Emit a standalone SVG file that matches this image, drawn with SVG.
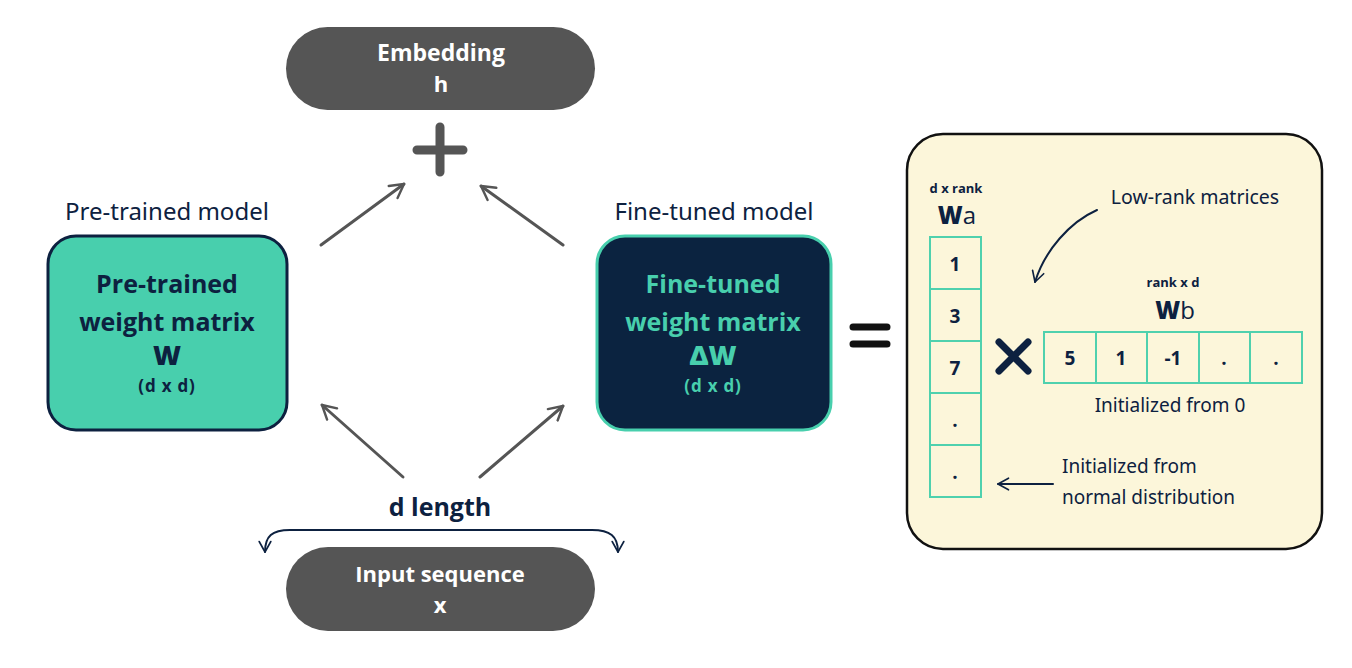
<svg xmlns="http://www.w3.org/2000/svg" width="1352" height="668" viewBox="0 0 1352 668">
<style>
.pill{fill:#555555}
.pilltxt{font-family:"Open Sans","Liberation Sans",sans-serif;font-weight:700;fill:#ffffff;text-anchor:middle}
.hand{font-family:"Noto Sans","DejaVu Sans",sans-serif;fill:#0d2140}
.mid{text-anchor:middle}
.boxtxt{font-family:"Open Sans","Liberation Sans",sans-serif;text-anchor:middle}
.b7{font-weight:700}
.b9{font-weight:800}
.cell{fill:none;stroke:#4fd1ae;stroke-width:2}
.celltxt{font-family:"Open Sans","Liberation Sans",sans-serif;font-weight:700;font-size:19px;fill:#0d2140;text-anchor:middle}
.conn{fill:none;stroke:#555555;stroke-width:3;stroke-linecap:round}
.navy{fill:none;stroke:#0d2140;stroke-width:2;stroke-linecap:round}
</style>
<defs>
<marker id="ah" viewBox="0 0 12 12" refX="10" refY="6" markerWidth="6" markerHeight="6" orient="auto" markerUnits="strokeWidth">
<path d="M1,1 L10,6 L1,11" fill="none" stroke="#555555" stroke-width="1.6" stroke-linecap="round" stroke-linejoin="round"/>
</marker>
<marker id="ahn" viewBox="0 0 12 12" refX="10" refY="6" markerWidth="7" markerHeight="7" orient="auto-start-reverse" markerUnits="strokeWidth">
<path d="M1,1 L10,6 L1,11" fill="none" stroke="#0d2140" stroke-width="1.4" stroke-linecap="round" stroke-linejoin="round"/>
</marker>
</defs>
<rect width="1352" height="668" fill="#ffffff"/>

<g id="embedding">
<rect class="pill" x="286" y="27" width="309" height="83" rx="41.5"/>
<text class="pilltxt" x="441" y="61" font-size="23">Embedding</text>
<text class="pilltxt" x="441" y="92" font-size="22">h</text>
</g>

<g id="plus">
<path d="M440,127 V172 M417,150 H463" stroke="#555555" stroke-width="9" stroke-linecap="round"/>
</g>

<g id="pretrained">
<text class="hand mid" x="167" y="220" font-size="24">Pre-trained model</text>
<rect x="48" y="236" width="239" height="194" rx="28" fill="#48cfad" stroke="#0d2140" stroke-width="3"/>
<text class="boxtxt b7" x="167" y="293" font-size="25" fill="#0d2140">Pre-trained</text>
<text class="boxtxt b7" x="167" y="331" font-size="25" fill="#0d2140">weight matrix</text>
<text class="boxtxt b9" x="167" y="365" font-size="27" fill="#0d2140">W</text>
<text class="boxtxt b7" x="167" y="392" font-size="17" fill="#0d2140" letter-spacing="0.8">(d x d)</text>
</g>

<g id="finetuned">
<text class="hand mid" x="714" y="220" font-size="24">Fine-tuned model</text>
<rect x="597" y="236" width="234" height="194" rx="28" fill="#0b2340" stroke="#48cfad" stroke-width="3"/>
<text class="boxtxt b7" x="713" y="293" font-size="25" fill="#48cfad">Fine-tuned</text>
<text class="boxtxt b7" x="713" y="331" font-size="25" fill="#48cfad">weight matrix</text>
<text class="boxtxt b9" x="713" y="365" font-size="27" fill="#48cfad">ΔW</text>
<text class="boxtxt b7" x="713" y="392" font-size="17" fill="#48cfad" letter-spacing="0.8">(d x d)</text>
</g>

<g id="equals">
<path d="M853,327 H887 M853,344 H887" stroke="#111111" stroke-width="7" stroke-linecap="round"/>
</g>

<g id="input">
<rect class="pill" x="286" y="547" width="309" height="84" rx="42"/>
<text class="pilltxt" x="440" y="582" font-size="22">Input sequence</text>
<text class="pilltxt" x="440" y="613" font-size="22">x</text>
</g>

<g id="dlength">
<text class="boxtxt b7" x="440" y="516" font-size="25" fill="#0d2140">d length</text>
</g>

<g id="lora">
<rect x="907" y="134" width="415" height="415" rx="36" fill="#fcf6da" stroke="#111111" stroke-width="2.5"/>
<text class="boxtxt b7" x="956" y="193" font-size="13" fill="#0d2140">d x rank</text>
<text class="boxtxt" x="957" y="224" font-size="24" fill="#0d2140"><tspan font-weight="800">W</tspan>a</text>
<rect class="cell" x="930" y="237" width="51" height="52"/>
<rect class="cell" x="930" y="289" width="51" height="52"/>
<rect class="cell" x="930" y="341" width="51" height="52"/>
<rect class="cell" x="930" y="393" width="51" height="52"/>
<rect class="cell" x="930" y="445" width="51" height="52"/>
<text class="celltxt" x="955" y="271">1</text>
<text class="celltxt" x="955" y="323">3</text>
<text class="celltxt" x="955" y="375">7</text>
<text class="celltxt" x="955" y="427">.</text>
<text class="celltxt" x="955" y="479">.</text>

<path d="M999,342 L1028,371 M1028,342 L999,371" stroke="#0d2140" stroke-width="7" stroke-linecap="round"/>

<text class="boxtxt b7" x="1173" y="287" font-size="13" fill="#0d2140">rank x d</text>
<text class="boxtxt" x="1175" y="319" font-size="24" fill="#0d2140"><tspan font-weight="800">W</tspan>b</text>
<rect class="cell" x="1044" y="332" width="52" height="51"/>
<rect class="cell" x="1096" y="332" width="51" height="51"/>
<rect class="cell" x="1147" y="332" width="52" height="51"/>
<rect class="cell" x="1199" y="332" width="51" height="51"/>
<rect class="cell" x="1250" y="332" width="52" height="51"/>
<text class="celltxt" x="1070" y="365">5</text>
<text class="celltxt" x="1121" y="365">1</text>
<text class="celltxt" x="1173" y="365">-1</text>
<text class="celltxt" x="1224" y="365">.</text>
<text class="celltxt" x="1276" y="365">.</text>

<text class="hand mid" x="1170" y="412" font-size="19">Initialized from 0</text>
<text class="hand mid" x="1195" y="204" font-size="19.5">Low-rank matrices</text>
<text class="hand" x="1062" y="473" font-size="19">Initialized from</text>
<text class="hand" x="1062" y="504" font-size="19">normal distribution</text>
</g>

<g id="connectors">
<line class="conn" x1="321" y1="245" x2="404" y2="184" marker-end="url(#ah)"/>
<line class="conn" x1="563" y1="245" x2="481" y2="186" marker-end="url(#ah)"/>
<line class="conn" x1="403" y1="477" x2="322" y2="405" marker-end="url(#ah)"/>
<line class="conn" x1="480" y1="477" x2="563" y2="406" marker-end="url(#ah)"/>
<path class="navy" d="M265,552 C265,536 272,530 290,530 H592 C610,530 618,536 618,552" marker-start="url(#ahn)" marker-end="url(#ahn)"/>
<path class="navy" d="M1097,210 C1070,222 1045,250 1035,282" stroke-width="2.2" marker-end="url(#ahn)"/>
<path class="navy" d="M1053,484 H998" marker-end="url(#ahn)"/>
</g>
</svg>
